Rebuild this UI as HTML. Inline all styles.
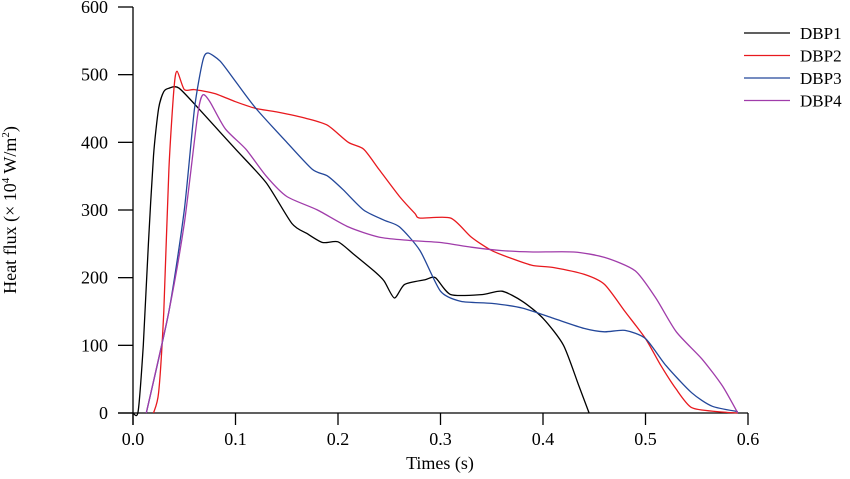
<!DOCTYPE html>
<html><head><meta charset="utf-8"><style>
body{margin:0;background:#fff;}
svg text{font-family:"Liberation Serif",serif;fill:#000;}
</style></head><body>
<svg id="chart" width="850" height="474" xmlns="http://www.w3.org/2000/svg">
<g id="axes"></g>
<g id="series"></g>
<g id="legend"></g>
<text x="440" y="469" font-size="18" text-anchor="middle">Times (s)</text>
<text transform="translate(16,210) rotate(-90)" font-size="18" text-anchor="middle">Heat flux (× 10<tspan font-size="11" dy="-7">4</tspan><tspan dy="7"> W/m</tspan><tspan font-size="11" dy="-7">2</tspan><tspan dy="7">)</tspan></text>
</svg>
<script>
const xTicks=[0,0.1,0.2,0.3,0.4,0.5,0.6];
const xTickLabels=["0.0","0.1","0.2","0.3","0.4","0.5","0.6"];
const yTicks=[0,100,200,300,400,500,600];
const seriesNames=["DBP1","DBP2","DBP3","DBP4"];
const seriesColors=["#000000","#e8191e","#23479a","#a03caa"];
const dbp1T=[0,0.005,0.01,0.015,0.02,0.025,0.03,0.035,0.045,0.07,0.1,0.13,0.155,0.17,0.185,0.2,0.215,0.235,0.245,0.255,0.265,0.285,0.295,0.31,0.34,0.36,0.38,0.4,0.42,0.435,0.445];
const dbp1V=[0,2,100,250,380,450,475,480,480,440,390,340,280,265,252,253,235,210,195,170,190,197,200,175,175,180,165,140,100,40,0];
const dbp2T=[0.02,0.025,0.03,0.035,0.04,0.043,0.05,0.06,0.08,0.1,0.12,0.14,0.17,0.19,0.21,0.225,0.24,0.26,0.275,0.28,0.31,0.33,0.35,0.37,0.39,0.41,0.44,0.46,0.48,0.5,0.515,0.53,0.545,0.57,0.59];
const dbp2V=[0,30,150,360,480,505,478,478,472,460,450,445,435,425,400,390,360,320,295,288,288,260,240,228,218,215,205,190,150,110,70,35,8,2,0];
const dbp3T=[0.013,0.035,0.05,0.06,0.068,0.073,0.085,0.1,0.12,0.15,0.175,0.19,0.205,0.225,0.245,0.26,0.28,0.3,0.32,0.35,0.38,0.41,0.44,0.46,0.48,0.5,0.52,0.545,0.565,0.59];
const dbp3V=[0,150,300,450,520,532,520,490,450,400,360,350,330,300,285,275,240,180,165,162,155,140,125,120,122,110,70,30,10,2];
const dbp4T=[0.013,0.035,0.05,0.063,0.068,0.075,0.09,0.11,0.13,0.15,0.18,0.21,0.24,0.27,0.3,0.33,0.36,0.39,0.43,0.46,0.49,0.51,0.53,0.555,0.575,0.59];
const dbp4V=[0,150,280,440,470,460,420,390,350,320,300,275,260,255,252,245,240,238,238,230,210,170,120,80,40,0];
const allT=[dbp1T,dbp2T,dbp3T,dbp4T], allV=[dbp1V,dbp2V,dbp3V,dbp4V];
const NS="http://www.w3.org/2000/svg";
const X0=133,X1=748,Y0=413,Y1=7;
const xs=t=>X0+(t-0)/(0.6-0)*(X1-X0);
const ys=v=>Y0-(v-0)/(600-0)*(Y0-Y1);
function mk(tag,attrs,parent){const e=document.createElementNS(NS,tag);for(const k in attrs)e.setAttribute(k,attrs[k]);parent.appendChild(e);return e;}
function smooth(pts){
  let d='M'+pts[0][0].toFixed(1)+','+pts[0][1].toFixed(1);
  const k=0.12;
  for(let i=0;i<pts.length-1;i++){
    const p0=pts[Math.max(0,i-1)],p1=pts[i],p2=pts[i+1],p3=pts[Math.min(pts.length-1,i+2)];
    const c1=[p1[0]+(p2[0]-p0[0])*k,p1[1]+(p2[1]-p0[1])*k];
    const c2=[p2[0]-(p3[0]-p1[0])*k,p2[1]-(p3[1]-p1[1])*k];
    d+=' C'+c1.map(v=>v.toFixed(1)).join(',')+' '+c2.map(v=>v.toFixed(1)).join(',')+' '+p2[0].toFixed(1)+','+p2[1].toFixed(1);
  }
  return d;
}
const axes=document.getElementById('axes');
let l=mk('line',{x1:118,y1:Y0,x2:X1,y2:Y0,stroke:'#000','stroke-width':1.3},axes);


l=mk('line',{x1:X0,y1:Y1,x2:X0,y2:425,stroke:'#000','stroke-width':1.3},axes);


xTicks.forEach((t,i)=>{
  const tk=mk('line',{x1:xs(t),y1:Y0,x2:xs(t),y2:Y0+12,stroke:'#000','stroke-width':1.3},axes);
  
  
  const tx=mk('text',{x:xs(t),y:445,'font-size':18,'text-anchor':'middle'},axes);
  tx.textContent=xTickLabels[i];
  
  
});
yTicks.forEach(v=>{
  const tk=mk('line',{x1:118,y1:ys(v),x2:X0,y2:ys(v),stroke:'#000','stroke-width':1.3},axes);
  
  
  const tx=mk('text',{x:108,y:ys(v)+6,'font-size':18,'text-anchor':'end'},axes);
  tx.textContent=String(v);
  
  
});
const sg=document.getElementById('series');
allT.forEach((T,i)=>{
  const pts=T.map((t,j)=>[xs(t),ys(allV[i][j])]);
  const p=mk('path',{d:smooth(pts),fill:'none',stroke:seriesColors[i],'stroke-width':1.3,'stroke-linejoin':'round'},sg);
  
  
});
const lg=document.getElementById('legend');
seriesNames.forEach((n,i)=>{
  const y=33+i*22.5;
  const ln=mk('line',{x1:744,y1:y,x2:790,y2:y,stroke:seriesColors[i],'stroke-width':1.3},lg);
  
  
  const tx=mk('text',{x:800,y:y+6,'font-size':17},lg);
  tx.textContent=n;
  
  
});
</script>
</body></html>
